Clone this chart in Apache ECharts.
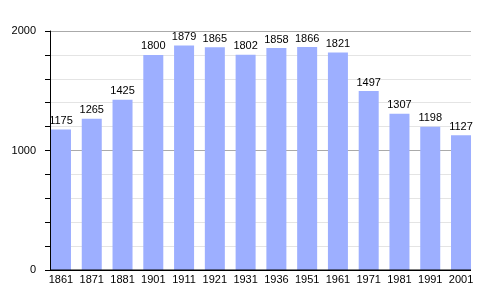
<!DOCTYPE html>
<html><head><meta charset="utf-8">
<script src="https://cdn.jsdelivr.net/npm/echarts@6/dist/echarts.min.js"></script>
<style>html,body{margin:0;padding:0;background:#fff}#c{width:500px;height:300px}</style>
</head><body><div id="c"></div>
<script>
const years = ['1861','1871','1881','1901','1911','1921','1931','1936','1951','1961','1971','1981','1991','2001'];
const population = [1175,1265,1425,1800,1879,1865,1802,1858,1866,1821,1497,1307,1198,1127];
const yLabels = [0,1000,2000];

const chart = echarts.init(document.getElementById('c'), null, {renderer:'canvas'});
const font = 'Liberation Sans, Arial, sans-serif';
chart.setOption({
  animation:false,
  grid:[
    {left:50, top:31, width:421, height:239},
    {left:45.6, top:31, width:430.8, height:239}
  ],
  xAxis:[
    {gridIndex:0, type:'value', min:0, max:1, show:false},
    {gridIndex:1, type:'category', data:years, boundaryGap:true,
     axisLine:{show:false}, axisTick:{show:false},
     axisLabel:{interval:0, color:'#000', fontFamily:font, fontSize:11, margin:4}}
  ],
  yAxis:[
    {gridIndex:0, type:'value', min:0, max:2000, interval:200,
     axisLine:{show:true, lineStyle:{color:'#000', width:1}},
     axisTick:{show:true, length:5, lineStyle:{color:'#000'}},
     axisLabel:{color:'#000', fontFamily:font, fontSize:11, margin:14,
       formatter:v=> yLabels.includes(v) ? String(v) : ''},
     splitLine:{show:true, lineStyle:{color:['#000','#e4e4e4','#e4e4e4','#e4e4e4','#e4e4e4','#aaaaaa','#e4e4e4','#e4e4e4','#e4e4e4','#e4e4e4','#aaaaaa'], width:1}}},
    {gridIndex:1, type:'value', min:0, max:2000, show:false, splitLine:{show:false}}
  ],
  series:[
    {type:'line', xAxisIndex:0, yAxisIndex:0, data:[[0,0],[1,0]], symbol:'none',
     lineStyle:{color:'#000', width:1}, z:5, silent:true},
    {type:'bar', xAxisIndex:1, yAxisIndex:1, data:population, barWidth:20,
     itemStyle:{color:'#9dafff'},
     label:{show:true, position:'top', distance:3, color:'#000', fontFamily:font, fontSize:11}}
  ]
});
</script></body></html>
